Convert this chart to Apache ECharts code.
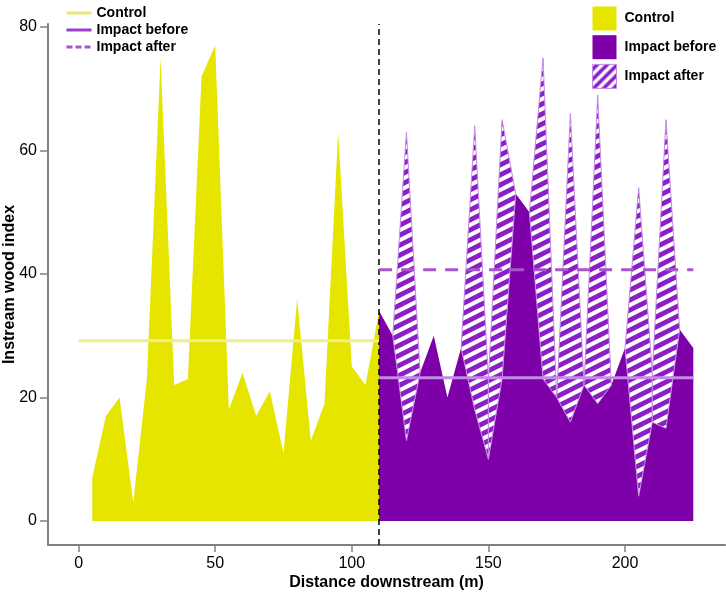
<!DOCTYPE html>
<html>
<head>
<meta charset="utf-8">
<script src="https://cdn.jsdelivr.net/npm/echarts@6/dist/echarts.min.js"></script>
<style>
html,body{margin:0;padding:0;background:#ffffff;}
#chart{width:726px;height:594px;}
</style>
</head>
<body>
<div id="chart"></div>
<script>
// ---- data ----
const controlX = [5,10,15,20,25,30,35,40,45,50,55,60,65,70,75,80,85,90,95,100,105,110];
const controlY = [7,17,20,3,23,75,22,23,72,77,18,24,17,21,11,36,13,19,63,25,22,34];

const impactX = [110,115,120,125,130,135,140,145,150,155,160,165,170,175,180,185,190,195,200,205,210,215,220,225];
const impactBefore = [34,30,13,24,30,20,28,18,10,23,53,50,23,20,16,22,19,22,28,4,16,15,31,28];
const impactAfter  = [34,30,63,24,30,20,28,64,23,65,53,50,75,20,66,22,69,22,28,54,24,65,31,28];

// positions of the hatched "after" spikes
const spikeX = [120,145,155,170,180,190,205,215];

const controlMean = 29.2;
const impactBeforeMean = 23.2;
const impactAfterMean = 40.7;
const controlMeanRange = [0, 110];
const impactMeanRange = [110, 225];
const boundaryX = 110;

const xTicks = [0,50,100,150,200];
const yTicks = [0,20,40,60,80];

// ---- styles ----
const FONT = 'Liberation Sans, Arial, sans-serif';
const YELLOW = '#e5e500';
const PURPLE = '#7d00a8';
const HATCH_PURPLE = '#8a1fc7';
const LAVENDER = '#c58ae6';
const AXIS_GRAY = '#808080';

function stripeTile(w, h, stripe, bg, lw) {
  const c = document.createElement('canvas');
  c.width = w; c.height = h;
  const ctx = c.getContext('2d');
  ctx.fillStyle = bg; ctx.fillRect(0, 0, w, h);
  ctx.strokeStyle = stripe; ctx.lineWidth = lw;
  for (let k = -2; k <= 2; k++) {
    ctx.beginPath();
    ctx.moveTo(-w, 2 * h + k * h);
    ctx.lineTo(2 * w, -h + k * h);
    ctx.stroke();
  }
  return c;
}
const hatchPlot = { image: stripeTile(20, 10, '#ffffff', HATCH_PURPLE, 4.2), repeat: 'repeat' };
const hatchLegend = { image: stripeTile(10, 10, '#ffffff', HATCH_PURPLE, 3.4), repeat: 'repeat' };

function pairs(xs, ys) { return xs.map((x, i) => [x, ys[i]]); }

const chart = echarts.init(document.getElementById('chart'));

const option = {
  animation: false,
  backgroundColor: '#ffffff',
  textStyle: { fontFamily: FONT },
  grid: { left: 48, right: 1, top: 24, bottom: 49, containLabel: false, outerBoundsMode: 'none' },
  xAxis: {
    type: 'value', min: -11.2, max: 236.6,
    name: 'Distance downstream (m)', nameLocation: 'middle', nameGap: 30, nameMoveOverlap: false,
    nameTextStyle: { fontFamily: FONT, fontWeight: 'bold', fontSize: 16, color: '#000' },
    axisLine: { show: true, onZero: false, lineStyle: { color: AXIS_GRAY, width: 2 } },
    axisTick: { show: true, length: 7, customValues: xTicks, lineStyle: { color: AXIS_GRAY, width: 1.5 } },
    axisLabel: { customValues: xTicks, fontFamily: FONT, fontSize: 16, color: '#000', margin: 11 },
    splitLine: { show: false }
  },
  yAxis: {
    type: 'value', min: -3.9, max: 80.5,
    name: 'Instream wood index', nameLocation: 'middle', nameGap: 30, nameMoveOverlap: false,
    nameTextStyle: { fontFamily: FONT, fontWeight: 'bold', fontSize: 16, color: '#000' },
    axisLine: { show: true, onZero: false, lineStyle: { color: AXIS_GRAY, width: 2 } },
    axisTick: { show: true, length: 8, customValues: yTicks, lineStyle: { color: AXIS_GRAY, width: 1.5 } },
    axisLabel: { customValues: yTicks, fontFamily: FONT, fontSize: 16, color: '#000', margin: 11 },
    splitLine: { show: false }
  },
  legend: [
    {
      orient: 'vertical', left: 60, top: 1,
      itemWidth: 25, itemHeight: 14, itemGap: 3,
      selectedMode: false,
      textStyle: { fontFamily: FONT, fontWeight: 'bold', fontSize: 14, color: '#000' },
      data: [
        { name: 'Control', itemStyle: { opacity: 0 }, lineStyle: { color: '#e6e67a', width: 3, type: 'solid' } },
        { name: 'Impact before', itemStyle: { opacity: 0 }, lineStyle: { color: '#9b3fcf', width: 3, type: 'solid' } },
        { name: 'Impact after', itemStyle: { opacity: 0 }, lineStyle: { color: '#a855cc', width: 3, type: [6, 3] } }
      ]
    },
    {
      orient: 'vertical', left: 587, top: 1.5,
      itemWidth: 24, itemHeight: 24, itemGap: 4.7,
      selectedMode: false,
      formatter: function (n) { return n.replace(' area', ''); },
      textStyle: { fontFamily: FONT, fontWeight: 'bold', fontSize: 14, color: '#000', padding: [0, 0, 0, 3] },
      data: [
        { name: 'Control area', icon: 'rect', itemStyle: { color: YELLOW, borderWidth: 0 } },
        { name: 'Impact before area', icon: 'rect', itemStyle: { color: PURPLE, borderWidth: 0 } },
        { name: 'Impact after area', icon: 'rect', itemStyle: { color: hatchLegend, borderColor: LAVENDER, borderWidth: 1 } }
      ]
    }
  ],
  series: [
    {
      name: 'Control area', type: 'line', data: pairs(controlX, controlY),
      symbol: 'none', silent: true, z: 1,
      lineStyle: { width: 0, opacity: 0 },
      itemStyle: { color: YELLOW },
      areaStyle: { color: YELLOW, opacity: 1 }
    },
    {
      name: 'Impact before area', type: 'line', data: pairs(impactX, impactBefore),
      symbol: 'none', silent: true, z: 2,
      lineStyle: { width: 0, opacity: 0 },
      itemStyle: { color: PURPLE },
      areaStyle: { color: PURPLE, opacity: 1 }
    },
    {
      name: 'Impact after area', type: 'custom', z: 3, silent: true,
      itemStyle: { color: HATCH_PURPLE },
      encode: { x: 0, y: 1 },
      data: spikeX.map(function (x) { const i = impactX.indexOf(x); return [x, impactAfter[i], i]; }),
      renderItem: function (params, api) {
        const i = api.value(2);
        const pts = [];
        for (let k = i - 1; k <= i + 1; k++) pts.push(api.coord([impactX[k], impactAfter[k]]));
        for (let k = i + 1; k >= i - 1; k--) pts.push(api.coord([impactX[k], impactBefore[k]]));
        return {
          type: 'polygon',
          shape: { points: pts },
          style: { fill: hatchPlot, stroke: LAVENDER, lineWidth: 1 }
        };
      }
    },
    {
      name: 'Control', type: 'line', z: 5, silent: true,
      data: controlMeanRange.map(function (x) { return [x, controlMean]; }),
      symbol: 'none',
      itemStyle: { color: '#eeee8e' },
      lineStyle: { color: '#eeee8e', width: 3 },
      markLine: {
        silent: true, symbol: ['none', 'none'], label: { show: false },
        lineStyle: { color: '#000', type: [6, 4], width: 1.5 },
        data: [{ xAxis: boundaryX }]
      }
    },
    {
      name: 'Impact before', type: 'line', z: 5, silent: true,
      data: impactMeanRange.map(function (x) { return [x, impactBeforeMean]; }),
      symbol: 'none',
      itemStyle: { color: LAVENDER },
      lineStyle: { color: LAVENDER, width: 3 }
    },
    {
      name: 'Impact after', type: 'line', z: 5, silent: true,
      data: impactMeanRange.map(function (x) { return [x, impactAfterMean]; }),
      symbol: 'none',
      itemStyle: { color: '#a855cc' },
      lineStyle: { color: '#a855cc', width: 3, type: [13, 9] }
    }
  ]
};
chart.setOption(option);
</script>
</body>
</html>
